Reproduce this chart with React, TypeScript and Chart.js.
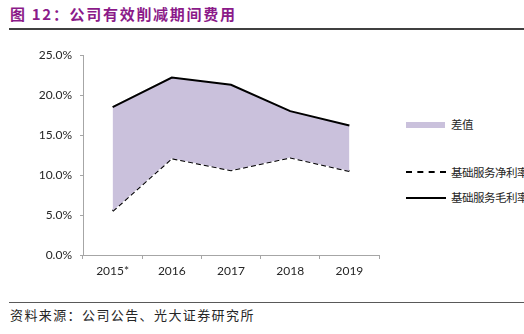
import React, { useEffect, useRef } from "react";
import { Chart, registerables } from "chart.js";

Chart.register(...registerables);

const categories = ["2015*", "2016", "2017", "2018", "2019"];
const grossMargin = [18.5, 22.2, 21.3, 18.0, 16.2];
const netMargin = [5.5, 12.1, 10.6, 12.2, 10.5];
const yTicks = [0, 5, 10, 15, 20, 25];

const titleText = "图 12：公司有效削减期间费用";
const sourceText = "资料来源：公司公告、光大证券研究所";
const legendDiff = "差值";
const legendNet = "基础服务净利率";
const legendGross = "基础服务毛利率";

const FILL = "#CAC1DC";
const TICK_FONT = "Lato, 'Liberation Sans', sans-serif";
const CJK = "'Noto Sans CJK SC', sans-serif";

export default function App() {
  const ref = useRef<HTMLCanvasElement | null>(null);

  useEffect(() => {
    if (!ref.current) return;
    const chart = new Chart(ref.current, {
      type: "line",
      data: {
        labels: categories,
        datasets: [
          {
            label: legendGross,
            data: grossMargin,
            borderColor: "#000000",
            borderWidth: 2,
            pointRadius: 0,
            tension: 0,
            fill: "+1",
            backgroundColor: FILL,
          },
          {
            label: legendNet,
            data: netMargin,
            borderColor: "#000000",
            borderWidth: 2,
            borderDash: [5, 3],
            pointRadius: 0,
            tension: 0,
            fill: false,
          },
        ],
      },
      options: {
        animation: false,
        responsive: false,
        maintainAspectRatio: false,
        layout: { padding: { left: 0, right: 11, top: 10, bottom: 0 } },
        plugins: { legend: { display: false }, tooltip: { enabled: false } },
        scales: {
          x: {
            type: "category",
            offset: true,
            grid: {
              display: true,
              drawOnChartArea: false,
              drawTicks: true,
              tickLength: 4,
              offset: true,
              color: "#A6A6A6",
            },
            border: { display: true, color: "#A6A6A6", width: 1 },
            ticks: {
              color: "#262626",
              font: { family: TICK_FONT, size: 12 },
              padding: 5,
              maxRotation: 0,
            },
            afterFit: (s: any) => {
              s.height = 35;
            },
          },
          y: {
            min: 0,
            max: 25,
            afterBuildTicks: (s: any) => {
              s.ticks = yTicks.map((v) => ({ value: v }));
            },
            grid: {
              display: true,
              drawOnChartArea: false,
              drawTicks: true,
              tickLength: 3,
              color: "#A6A6A6",
            },
            border: { display: true, color: "#A6A6A6", width: 1 },
            ticks: {
              color: "#262626",
              font: { family: TICK_FONT, size: 12 },
              padding: 8,
              callback: (v: any) => Number(v).toFixed(1) + "%",
            },
            afterFit: (s: any) => {
              s.width = 83;
            },
          },
        },
      },
    });
    return () => chart.destroy();
  }, []);

  return (
    <div
      style={{
        position: "fixed",
        left: 0,
        top: 0,
        width: 524,
        height: 334,
        overflow: "hidden",
        background: "#ffffff",
      }}
    >
      <div
        style={{
          position: "absolute",
          left: 10,
          top: 3,
          fontFamily: CJK,
          fontWeight: 700,
          fontSize: 15,
          letterSpacing: 1.7,
          color: "#8B1A89",
          whiteSpace: "nowrap",
          lineHeight: "22px",
        }}
      >
        {titleText}
      </div>
      <div
        style={{
          position: "absolute",
          left: 9,
          top: 28,
          width: 515,
          height: 2,
          background: "#404040",
        }}
      />
      <canvas
        ref={ref}
        width={390}
        height={250}
        style={{ position: "absolute", left: 0, top: 40, width: 390, height: 250 }}
      />
      {/* legend */}
      <div
        style={{
          position: "absolute",
          left: 406,
          top: 122,
          width: 39,
          height: 6,
          background: FILL,
        }}
      />
      <div style={legendText(116)}>{legendDiff}</div>
      <div
        style={{
          position: "absolute",
          left: 406,
          top: 171,
          width: 40,
          height: 0,
          borderTop: "2px dashed #000",
        }}
      />
      <div style={legendText(164)}>{legendNet}</div>
      <div
        style={{
          position: "absolute",
          left: 406,
          top: 197,
          width: 40,
          height: 2,
          background: "#000",
        }}
      />
      <div style={legendText(189)}>{legendGross}</div>
      <div
        style={{
          position: "absolute",
          left: 9,
          top: 302,
          width: 515,
          height: 1,
          background: "#595959",
        }}
      />
      <div
        style={{
          position: "absolute",
          left: 10,
          top: 306,
          fontFamily: CJK,
          fontSize: 13,
          letterSpacing: 1.4,
          color: "#262626",
          whiteSpace: "nowrap",
          lineHeight: "18px",
        }}
      >
        {sourceText}
      </div>
    </div>
  );
}

function legendText(top: number): React.CSSProperties {
  return {
    position: "absolute",
    left: 451,
    top,
    fontFamily: CJK,
    fontSize: 11.5,
    letterSpacing: -0.5,
    color: "#262626",
    whiteSpace: "nowrap",
    lineHeight: "16px",
  };
}
